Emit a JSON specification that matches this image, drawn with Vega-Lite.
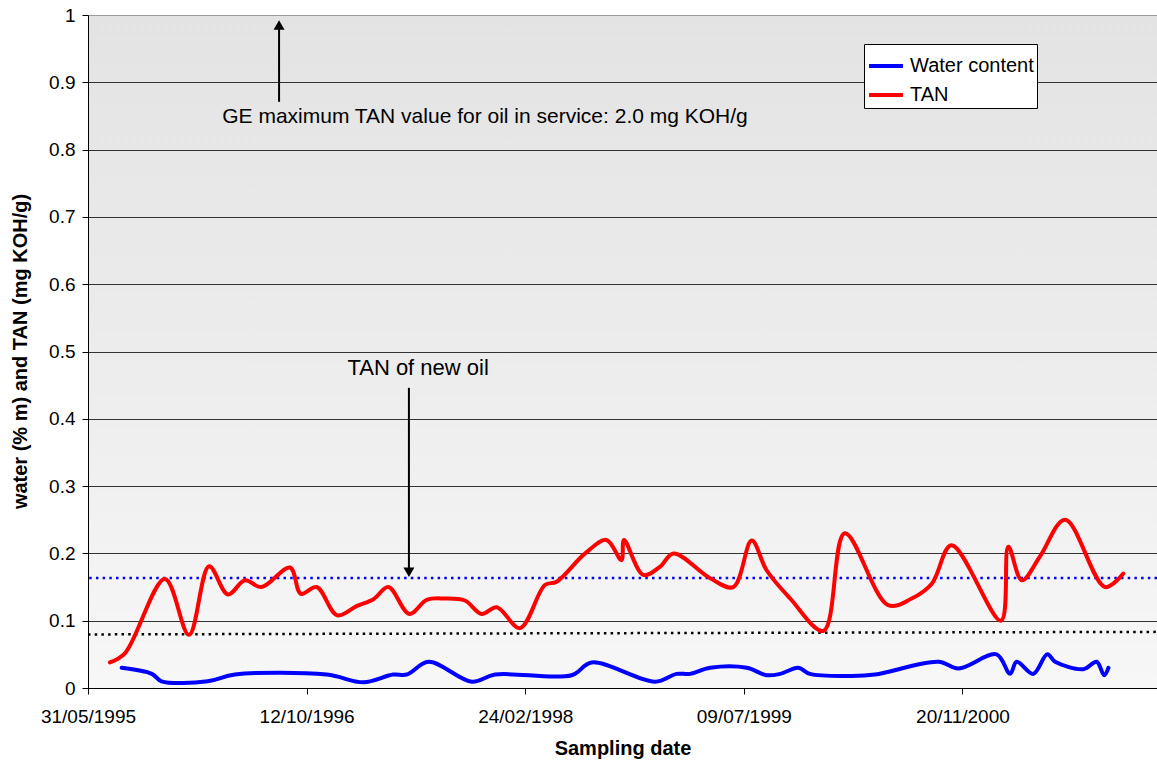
{
  "$schema": "https://vega.github.io/schema/vega-lite/v6.json",
  "width": 1069,
  "height": 673,
  "autosize": {"type": "none"},
  "padding": {"left": 88, "top": 15, "right": 0, "bottom": 79},
  "background": "white",
  "config": {
    "font": "Liberation Sans",
    "view": {"stroke": null, "fill": {"gradient": "linear", "x1": 0, "y1": 0, "x2": 0, "y2": 1, "stops": [{"offset": 0, "color": "#e3e3e3"}, {"offset": 0.5, "color": "#ececec"}, {"offset": 1, "color": "#f7f7f7"}]}},
    "axis": {"labelFont": "Liberation Sans", "titleFont": "Liberation Sans", "labelColor": "#000", "titleColor": "#000", "domainColor": "#000", "tickColor": "#000", "labelFontSize": 19, "titleFontSize": 19, "titleFontWeight": "bold", "labelFlush": false, "labelOverlap": false}
  },
  "layer": [
    {
      "data": {"values": [{}]},
      "mark": {"type": "rule", "color": "#0000ff", "strokeWidth": 2.5, "strokeDash": [2.5, 4.2]},
      "encoding": {"y": {"datum": 0.1634, "type": "quantitative"}}
    },
    {
      "data": {"values": [{}]},
      "mark": {"type": "rule", "color": "#000000", "strokeWidth": 2.5, "strokeDash": [2.5, 4.2]},
      "encoding": {
        "x": {"datum": {"year": 1995, "month": 5, "date": 31, "utc": true}, "type": "temporal"},
        "x2": {"datum": {"year": 2002, "month": 2, "date": 8, "utc": true}},
        "y": {"datum": 0.0796, "type": "quantitative"},
        "y2": {"datum": 0.0834}
      }
    },
    {
      "data": {"values": [
        {"date": "1995-08-16", "value": 0.030, "series": "Water content"},
        {"date": "1995-10-24", "value": 0.021, "series": "Water content"},
        {"date": "1995-11-15", "value": 0.010, "series": "Water content"},
        {"date": "1996-02-29", "value": 0.010, "series": "Water content"},
        {"date": "1996-05-01", "value": 0.020, "series": "Water content"},
        {"date": "1996-11-27", "value": 0.020, "series": "Water content"},
        {"date": "1997-02-19", "value": 0.0085, "series": "Water content"},
        {"date": "1997-04-28", "value": 0.020, "series": "Water content"},
        {"date": "1997-05-29", "value": 0.020, "series": "Water content"},
        {"date": "1997-07-18", "value": 0.039, "series": "Water content"},
        {"date": "1997-10-25", "value": 0.0094, "series": "Water content"},
        {"date": "1997-12-17", "value": 0.020, "series": "Water content"},
        {"date": "1998-06-10", "value": 0.019, "series": "Water content"},
        {"date": "1998-07-26", "value": 0.038, "series": "Water content"},
        {"date": "1998-12-18", "value": 0.0094, "series": "Water content"},
        {"date": "1999-02-05", "value": 0.021, "series": "Water content"},
        {"date": "1999-03-08", "value": 0.021, "series": "Water content"},
        {"date": "1999-04-23", "value": 0.030, "series": "Water content"},
        {"date": "1999-07-16", "value": 0.030, "series": "Water content"},
        {"date": "1999-08-30", "value": 0.019, "series": "Water content"},
        {"date": "1999-09-30", "value": 0.021, "series": "Water content"},
        {"date": "1999-11-11", "value": 0.030, "series": "Water content"},
        {"date": "1999-12-07", "value": 0.021, "series": "Water content"},
        {"date": "2000-03-12", "value": 0.018, "series": "Water content"},
        {"date": "2000-05-04", "value": 0.020, "series": "Water content"},
        {"date": "2000-09-26", "value": 0.039, "series": "Water content"},
        {"date": "2000-11-11", "value": 0.029, "series": "Water content"},
        {"date": "2001-02-06", "value": 0.050, "series": "Water content"},
        {"date": "2001-03-09", "value": 0.021, "series": "Water content"},
        {"date": "2001-03-24", "value": 0.039, "series": "Water content"},
        {"date": "2001-05-01", "value": 0.021, "series": "Water content"},
        {"date": "2001-06-02", "value": 0.050, "series": "Water content"},
        {"date": "2001-06-20", "value": 0.039, "series": "Water content"},
        {"date": "2001-08-24", "value": 0.028, "series": "Water content"},
        {"date": "2001-09-23", "value": 0.039, "series": "Water content"},
        {"date": "2001-10-10", "value": 0.019, "series": "Water content"},
        {"date": "2001-10-20", "value": 0.030, "series": "Water content"},
        {"date": "1995-07-20", "value": 0.038, "series": "TAN"},
        {"date": "1995-08-24", "value": 0.052, "series": "TAN"},
        {"date": "1995-11-23", "value": 0.162, "series": "TAN"},
        {"date": "1996-01-17", "value": 0.079, "series": "TAN"},
        {"date": "1996-03-03", "value": 0.181, "series": "TAN"},
        {"date": "1996-04-15", "value": 0.139, "series": "TAN"},
        {"date": "1996-05-24", "value": 0.160, "series": "TAN"},
        {"date": "1996-07-01", "value": 0.150, "series": "TAN"},
        {"date": "1996-09-04", "value": 0.179, "series": "TAN"},
        {"date": "1996-09-29", "value": 0.140, "series": "TAN"},
        {"date": "1996-11-04", "value": 0.150, "series": "TAN"},
        {"date": "1996-12-21", "value": 0.108, "series": "TAN"},
        {"date": "1997-02-04", "value": 0.122, "series": "TAN"},
        {"date": "1997-03-14", "value": 0.132, "series": "TAN"},
        {"date": "1997-04-17", "value": 0.150, "series": "TAN"},
        {"date": "1997-06-04", "value": 0.110, "series": "TAN"},
        {"date": "1997-07-14", "value": 0.131, "series": "TAN"},
        {"date": "1997-08-24", "value": 0.133, "series": "TAN"},
        {"date": "1997-10-09", "value": 0.130, "series": "TAN"},
        {"date": "1997-11-16", "value": 0.110, "series": "TAN"},
        {"date": "1997-12-21", "value": 0.120, "series": "TAN"},
        {"date": "1998-02-12", "value": 0.089, "series": "TAN"},
        {"date": "1998-04-10", "value": 0.153, "series": "TAN"},
        {"date": "1998-05-07", "value": 0.158, "series": "TAN"},
        {"date": "1998-07-11", "value": 0.200, "series": "TAN"},
        {"date": "1998-08-29", "value": 0.220, "series": "TAN"},
        {"date": "1998-10-02", "value": 0.190, "series": "TAN"},
        {"date": "1998-10-08", "value": 0.220, "series": "TAN"},
        {"date": "1998-11-21", "value": 0.168, "series": "TAN"},
        {"date": "1998-12-29", "value": 0.180, "series": "TAN"},
        {"date": "1999-01-29", "value": 0.200, "series": "TAN"},
        {"date": "1999-04-23", "value": 0.163, "series": "TAN"},
        {"date": "1999-06-15", "value": 0.150, "series": "TAN"},
        {"date": "1999-07-27", "value": 0.219, "series": "TAN"},
        {"date": "1999-08-30", "value": 0.175, "series": "TAN"},
        {"date": "1999-10-23", "value": 0.133, "series": "TAN"},
        {"date": "2000-01-07", "value": 0.085, "series": "TAN"},
        {"date": "2000-02-25", "value": 0.230, "series": "TAN"},
        {"date": "2000-06-03", "value": 0.123, "series": "TAN"},
        {"date": "2000-07-27", "value": 0.133, "series": "TAN"},
        {"date": "2000-09-11", "value": 0.155, "series": "TAN"},
        {"date": "2000-10-26", "value": 0.212, "series": "TAN"},
        {"date": "2001-02-16", "value": 0.100, "series": "TAN"},
        {"date": "2001-03-05", "value": 0.210, "series": "TAN"},
        {"date": "2001-04-05", "value": 0.160, "series": "TAN"},
        {"date": "2001-05-16", "value": 0.195, "series": "TAN"},
        {"date": "2001-07-13", "value": 0.250, "series": "TAN"},
        {"date": "2001-10-12", "value": 0.150, "series": "TAN"},
        {"date": "2001-11-23", "value": 0.170, "series": "TAN"}
      ]},
      "mark": {"type": "line", "strokeWidth": 4, "interpolate": "catmull-rom", "strokeCap": "round", "strokeJoin": "round"},
      "encoding": {
        "x": {
          "field": "date", "type": "temporal",
          "scale": {"type": "utc", "domain": [{"year": 1995, "month": 5, "date": 31, "utc": true}, {"year": 2002, "month": 2, "date": 8, "utc": true}]},
          "axis": {
            "title": "Sampling date",
            "titleFontSize": 20,
            "values": [
              {"year": 1995, "month": 5, "date": 31, "utc": true},
              {"year": 1996, "month": 10, "date": 12, "utc": true},
              {"year": 1998, "month": 2, "date": 24, "utc": true},
              {"year": 1999, "month": 7, "date": 9, "utc": true},
              {"year": 2000, "month": 11, "date": 20, "utc": true}
            ],
            "format": "%d/%m/%Y",
            "grid": false,
            "tickSize": 6,
            "labelPadding": 13,
            "titleY": 60,
            "titleBaseline": "middle"
          }
        },
        "y": {
          "field": "value", "type": "quantitative",
          "scale": {"domain": [0, 1], "nice": false},
          "axis": {
            "title": "water (% m) and TAN (mg KOH/g)",
            "titleFontSize": 20,
            "values": [0, 0.1, 0.2, 0.3, 0.4, 0.5, 0.6, 0.7, 0.8, 0.9, 1],
            "format": "~g",
            "grid": true,
            "gridColor": {"condition": {"test": "datum.value >= 1", "value": "#9a9a9a"}, "value": "#333333"},
            "gridWidth": 1,
            "tickSize": 6,
            "labelPadding": 7,
            "titleX": -68,
            "titleY": 336,
            "titleAngle": 270,
            "titleAlign": "center",
            "titleBaseline": "middle"
          }
        },
        "color": {
          "field": "series", "type": "nominal",
          "scale": {"domain": ["Water content", "TAN"], "range": ["#0000ff", "#ff0000"]},
          "legend": {
            "title": null,
            "orient": "none",
            "legendX": 776,
            "legendY": 29,
            "symbolType": "stroke",
            "symbolStrokeWidth": 4,
            "symbolSize": 1150,
            "labelFontSize": 20,
            "labelFont": "Liberation Sans",
            "labelColor": "#000",
            "fillColor": "white",
            "strokeColor": "#000",
            "padding": 3,
            "rowPadding": 0,
            "labelOffset": 5
          }
        }
      }
    },
    {
      "data": {"values": [{}]},
      "mark": {"type": "rule", "color": "#000", "strokeWidth": 2},
      "encoding": {
        "x": {"datum": {"year": 1996, "month": 8, "date": 10, "utc": true}, "type": "temporal"},
        "y": {"datum": 0.871, "type": "quantitative"},
        "y2": {"datum": 0.98}
      }
    },
    {
      "data": {"values": [{}]},
      "mark": {"type": "point", "shape": "triangle-up", "filled": true, "size": 121, "color": "#000", "opacity": 1},
      "encoding": {
        "x": {"datum": {"year": 1996, "month": 8, "date": 10, "utc": true}, "type": "temporal"},
        "y": {"datum": 0.985, "type": "quantitative"}
      }
    },
    {
      "data": {"values": [{}]},
      "mark": {"type": "rule", "color": "#000", "strokeWidth": 2},
      "encoding": {
        "x": {"datum": {"year": 1997, "month": 6, "date": 3, "utc": true}, "type": "temporal"},
        "y": {"datum": 0.446, "type": "quantitative"},
        "y2": {"datum": 0.178}
      }
    },
    {
      "data": {"values": [{}]},
      "mark": {"type": "point", "shape": "triangle-down", "filled": true, "size": 121, "color": "#000", "opacity": 1},
      "encoding": {
        "x": {"datum": {"year": 1997, "month": 6, "date": 3, "utc": true}, "type": "temporal"},
        "y": {"datum": 0.172, "type": "quantitative"}
      }
    },
    {
      "data": {"values": [{}]},
      "mark": {"type": "text", "text": "GE maximum TAN value for oil in service: 2.0 mg KOH/g", "font": "Liberation Sans", "fontSize": 21, "align": "center", "baseline": "middle", "color": "#000"},
      "encoding": {
        "x": {"datum": {"year": 1997, "month": 11, "date": 24, "utc": true}, "type": "temporal"},
        "y": {"datum": 0.8485, "type": "quantitative"}
      }
    },
    {
      "data": {"values": [{}]},
      "mark": {"type": "text", "text": "TAN of new oil", "font": "Liberation Sans", "fontSize": 22, "align": "center", "baseline": "middle", "color": "#000"},
      "encoding": {
        "x": {"datum": {"year": 1997, "month": 6, "date": 24, "utc": true}, "type": "temporal"},
        "y": {"datum": 0.4755, "type": "quantitative"}
      }
    }
  ]
}
